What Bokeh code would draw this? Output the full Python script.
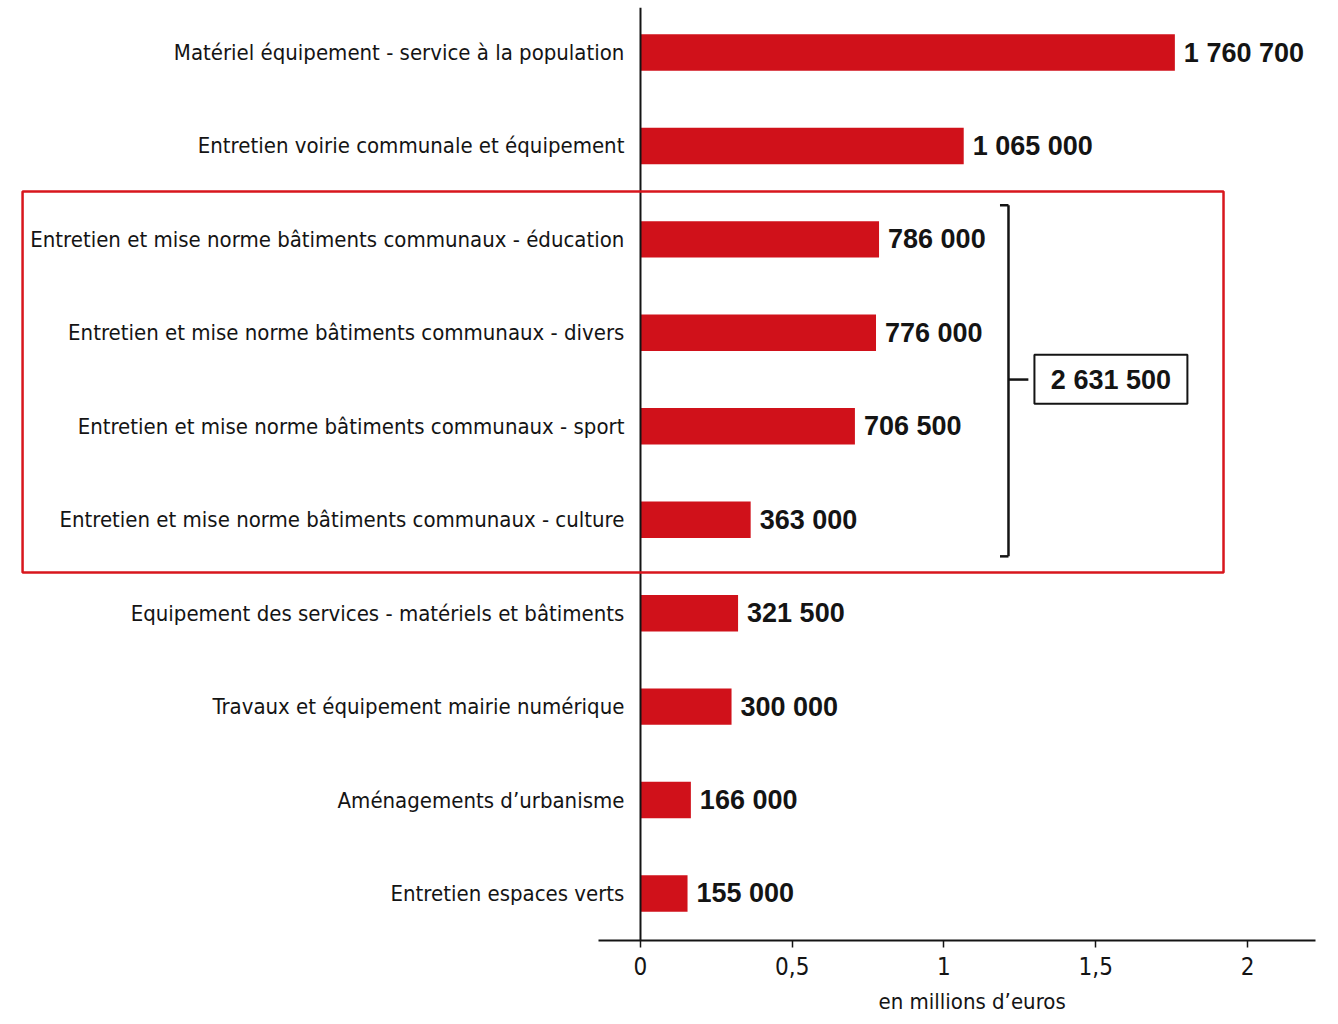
from bokeh.plotting import figure
from bokeh.models import Range1d, FixedTicker, ColumnDataSource, Title
from bokeh.core.properties import value
from bokeh.embed import file_html
from bokeh.resources import INLINE

# ---------------- data ----------------
categories = [
    "Matériel équipement - service à la population",
    "Entretien voirie communale et équipement",
    "Entretien et mise norme bâtiments communaux - éducation",
    "Entretien et mise norme bâtiments communaux - divers",
    "Entretien et mise norme bâtiments communaux - sport",
    "Entretien et mise norme bâtiments communaux - culture",
    "Equipement des services - matériels et bâtiments",
    "Travaux et équipement mairie numérique",
    "Aménagements d’urbanisme",
    "Entretien espaces verts",
]
amounts_eur = [1760700, 1065000, 786000, 776000, 706500, 363000, 321500, 300000, 166000, 155000]
group_idx = [2, 3, 4, 5]  # bâtiments communaux, grouped by the red frame
tick_values = [0, 0.5, 1, 1.5, 2]
tick_labels = ["0", "0,5", "1", "1,5", "2"]
axis_title = "en millions d’euros"

# ---------------- derived ----------------
def fmt(v):
    return f"{v:,}".replace(",", " ")

ys = list(range(len(categories)))
vals_m = [v / 1e6 for v in amounts_eur]
group_total = sum(amounts_eur[i] for i in group_idx)

src = ColumnDataSource(dict(y=ys, v=vals_m, cat=categories,
                            lab=[fmt(v) for v in amounts_eur]))

NARROW = "'Liberation Sans Narrow', 'Nimbus Sans Narrow', 'DejaVu Sans Condensed', 'Roboto Condensed', 'Liberation Sans', sans-serif"
BOLD = "'Liberation Sans', Arial, sans-serif"
RED = "#d0111a"
INK = "#141414"

p = figure(width=1330, height=1022,
           x_range=Range1d(-2.1087, 2.2735), y_range=Range1d(9.503, -0.5565),
           output_backend="svg", toolbar_location=None,
           x_axis_location="below", y_axis_location=None,
           min_border_left=0, min_border_right=0, min_border_top=0, min_border_bottom=82)
p.grid.visible = False
p.outline_line_color = None
p.background_fill_color = "white"
p.border_fill_color = "white"

# bars
p.hbar(y="y", left=0, right="v", height=0.39, source=src, fill_color=RED, line_color=None)

# category labels
p.text(x=-0.053, y="y", text="cat", source=src, text_align="right", text_baseline="middle",
       text_font=value(NARROW), text_font_size="22px", text_color=INK)

# value labels
p.text(x="v", y="y", text="lab", source=src, x_offset=9, text_align="left", text_baseline="middle",
       text_font=value(BOLD), text_font_style="bold", text_font_size="27px", text_color=INK)

# vertical zero line
p.segment(x0=[0], y0=[-0.48], x1=[0], y1=[9.6], line_color=INK, line_width=2)

# red frame around the grouped categories
gtop, gbot = min(group_idx) - 0.512, max(group_idx) + 0.565
p.quad(left=[-2.036], right=[1.921], top=[gtop], bottom=[gbot],
       fill_color=None, line_color="#d8161d", line_width=2.5)

# bracket
bx = 1.2125
btop, bbot = min(group_idx) - 0.365, max(group_idx) + 0.392
ymid = (min(group_idx) + max(group_idx)) / 2
p.segment(x0=[bx, bx - 0.028, bx - 0.028, bx], y0=[btop, btop, bbot, ymid],
          x1=[bx, bx, bx, 1.278], y1=[bbot, btop, bbot, ymid],
          line_color=INK, line_width=2.5)
p.quad(left=[1.298], right=[1.802], top=[ymid - 0.265], bottom=[ymid + 0.26],
       fill_color="white", line_color=INK, line_width=2)
p.text(x=[1.55], y=[ymid], text=[fmt(group_total)], text_align="center", text_baseline="middle",
       text_font=value(BOLD), text_font_style="bold", text_font_size="27px", text_color=INK)

# x axis
ax = p.xaxis[0]
ax.bounds = (-0.138, 2.224)
ax.ticker = FixedTicker(ticks=tick_values)
ax.major_label_overrides = {t: l for t, l in zip(tick_values, tick_labels)}
ax.axis_line_width = 2
ax.axis_line_color = INK
ax.major_tick_line_color = INK
ax.major_tick_line_width = 1.5
ax.major_tick_in = 0
ax.major_tick_out = 7
ax.minor_tick_line_color = None
ax.major_label_standoff = 9
ax.major_label_text_font = NARROW
ax.major_label_text_font_size = "24px"
ax.major_label_text_color = INK

# axis title, under the visible part of the axis
p.add_layout(Title(text=axis_title, align="left", offset=878, standoff=18,
                   text_font=NARROW, text_font_size="22px", text_font_style="normal",
                   text_color=INK), "below")

open("out.html", "w").write(file_html(p, INLINE))
